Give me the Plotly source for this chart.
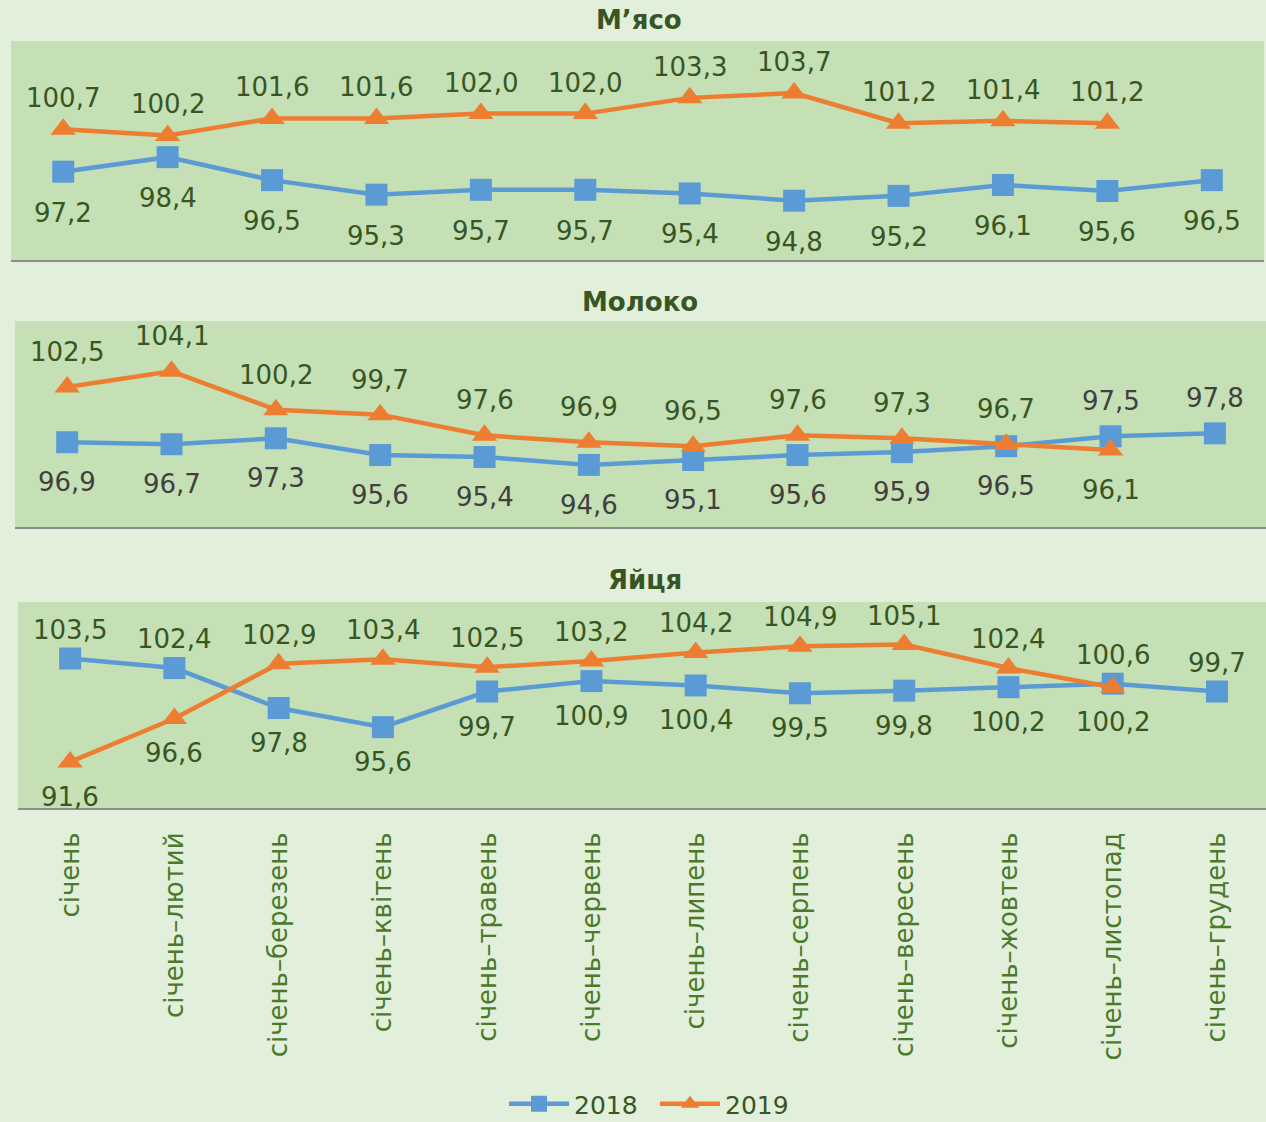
import plotly.graph_objects as go

# ---------------- data ----------------
categories = ["січень", "січень–лютий", "січень–березень", "січень–квітень",
              "січень–травень", "січень–червень", "січень–липень", "січень–серпень",
              "січень–вересень", "січень–жовтень", "січень–листопад", "січень–грудень"]

panel_titles = ["М’ясо", "Молоко", "Яйця"]

meat_2018 = [97.2, 98.4, 96.5, 95.3, 95.7, 95.7, 95.4, 94.8, 95.2, 96.1, 95.6, 96.5]
meat_2019 = [100.7, 100.2, 101.6, 101.6, 102.0, 102.0, 103.3, 103.7, 101.2, 101.4, 101.2, None]

milk_2018 = [96.9, 96.7, 97.3, 95.6, 95.4, 94.6, 95.1, 95.6, 95.9, 96.5, 97.5, 97.8]
milk_2019 = [102.5, 104.1, 100.2, 99.7, 97.6, 96.9, 96.5, 97.6, 97.3, 96.7, 96.1, None]

eggs_2018 = [103.5, 102.4, 97.8, 95.6, 99.7, 100.9, 100.4, 99.5, 99.8, 100.2, 100.6, 99.7]
eggs_2019 = [91.6, 96.6, 102.9, 103.4, 102.5, 103.2, 104.2, 104.9, 105.1, 102.4, 100.2, None]

# label placement (U = above, D = below)
meat_pos_2018 = "DDDDDDDDDDDD"
meat_pos_2019 = "UUUUUUUUUUU"
milk_pos_2018 = "DDDDDDDDDDUU"
milk_pos_2019 = "UUUUUUUUUUD"
eggs_pos_2018 = "UUDDDDDDDDUU"
eggs_pos_2019 = "DDUUUUUUUUD"

# ---------------- style ----------------
W, H = 1266, 1122
BG = "#e2efda"
PLOT_BG = "#c5e0b4"
BLUE = "#5b9bd5"
ORANGE = "#ed7d31"
DARK_GREEN = "#375623"
TICK_GREEN = "#4a7a2a"
GRAY_TXT = "#404040"
FONT = "DejaVu Sans"

panels = [
    dict(x=(11, 1264), xmax=11.5, y=(41, 260), yr=(89.9, 108.0), off=(31, 41),
         title_y=20, title_x=639,
         s18=meat_2018, s19=meat_2019, p18=meat_pos_2018, p19=meat_pos_2019,
         c18=DARK_GREEN, c19=DARK_GREEN),
    dict(x=(15, 1266), xmax=11.49, y=(321, 527), yr=(88.3, 109.2), off=(35, 40),
         title_y=302, title_x=640,
         s18=milk_2018, s19=milk_2019, p18=milk_pos_2018, p19=milk_pos_2019,
         c18=GRAY_TXT, c19=DARK_GREEN),
    dict(x=(18, 1266), xmax=11.47, y=(602, 808), yr=(86.3, 110.0), off=(29, 35),
         title_y=580, title_x=645,
         s18=eggs_2018, s19=eggs_2019, p18=eggs_pos_2018, p19=eggs_pos_2019,
         c18=DARK_GREEN, c19=DARK_GREEN),
]

fig = go.Figure()
annotations = []
layout_axes = {}

for i, p in enumerate(panels):
    k = "" if i == 0 else str(i + 1)
    xa, ya = "x" + k, "y" + k
    fig.add_trace(go.Scatter(
        x=categories, y=p["s18"], name="2018", mode="lines+markers",
        line=dict(color=BLUE, width=4.5),
        marker=dict(symbol="square", size=22, color=BLUE),
        xaxis=xa, yaxis=ya, showlegend=(i == 0), legendrank=1, cliponaxis=False))
    fig.add_trace(go.Scatter(
        x=categories, y=p["s19"], name="2019", mode="lines+markers",
        line=dict(color=ORANGE, width=4.5),
        marker=dict(symbol="triangle-up", size=22, color=ORANGE),
        xaxis=xa, yaxis=ya, showlegend=(i == 0), legendrank=2, cliponaxis=False))

    for series, pos, col in ((p["s18"], p["p18"], p["c18"]), (p["s19"], p["p19"], p["c19"])):
        for j, v in enumerate(series):
            if v is None:
                continue
            up = pos[j] == "U"
            annotations.append(dict(
                x=categories[j], y=v, xref=xa, yref=ya,
                text=f"{v:.1f}".replace(".", ","), showarrow=False,
                xanchor="center", yanchor="middle",
                yshift=p["off"][0] if up else -p["off"][1],
                font=dict(family=FONT, size=26, color=col)))

    annotations.append(dict(
        x=p["title_x"] / W, y=1 - p["title_y"] / H, xref="paper", yref="paper",
        text=f"<b>{panel_titles[i]}</b>", showarrow=False,
        xanchor="center", yanchor="middle",
        font=dict(family=FONT, size=26, color=DARK_GREEN)))

    x0, x1 = p["x"]
    yt, yb = p["y"]
    layout_axes["xaxis" + k] = dict(
        domain=[x0 / W, x1 / W], anchor=ya, type="category",
        categoryorder="array", categoryarray=categories,
        range=[-0.5, p["xmax"]],
        showline=True, linecolor="#8c8c8c", linewidth=2,
        showgrid=False, zeroline=False, ticks="", automargin=False,
        showticklabels=(i == 2), tickangle=-90, ticklabelstandoff=12,
        tickfont=dict(family=FONT, size=26, color=TICK_GREEN))
    layout_axes["yaxis" + k] = dict(
        domain=[1 - yb / H, 1 - yt / H], anchor=xa, range=list(p["yr"]),
        visible=False, showgrid=False, zeroline=False, automargin=False)

fig.update_layout(
    width=W, height=H,
    margin=dict(l=0, r=0, t=0, b=0, pad=0, autoexpand=False),
    paper_bgcolor=BG, plot_bgcolor=PLOT_BG,
    font=dict(family=FONT, color=DARK_GREEN),
    annotations=annotations,
    showlegend=True,
    legend=dict(orientation="h", x=655 / W, xanchor="center",
                y=(H - 1104) / H, yanchor="middle",
                font=dict(family=FONT, size=25, color=DARK_GREEN),
                bgcolor="rgba(0,0,0,0)", itemwidth=60, entrywidth=76,
                traceorder="normal"),
    **layout_axes,
)

fig.write_html(
    "out.html",
    config={"displayModeBar": False},
    post_script=("document.documentElement.style.margin='0';"
                 "document.body.style.margin='0';"
                 "document.documentElement.style.overflow='hidden';"
                 "document.body.style.overflow='hidden';"),
)
